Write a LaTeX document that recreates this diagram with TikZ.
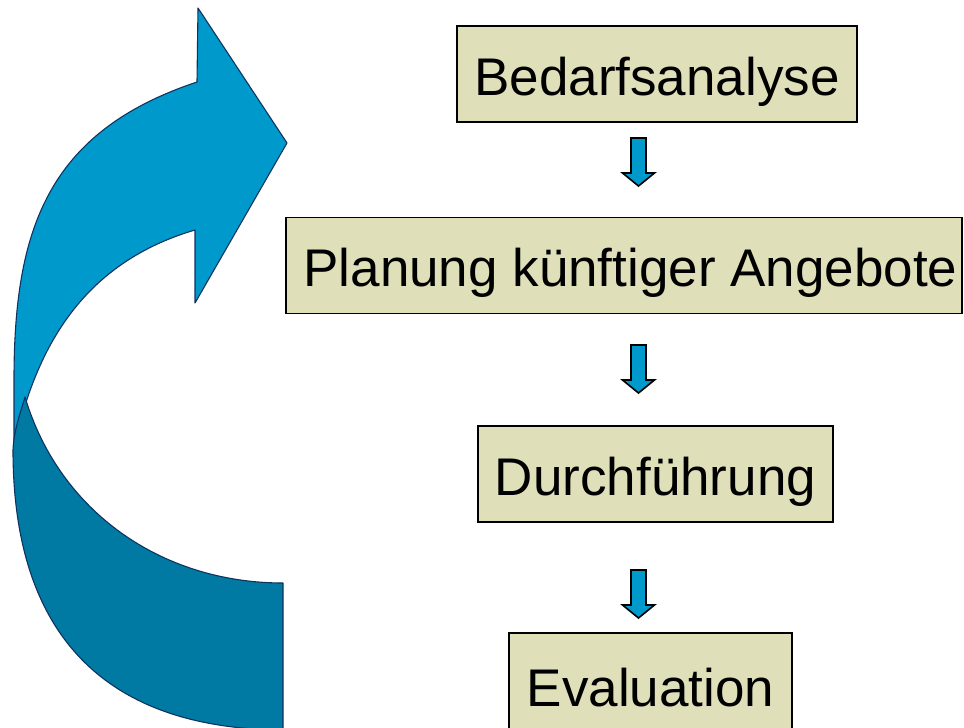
\documentclass[tikz,border=0pt]{standalone}
\usepackage{fontspec}
\setmainfont{Liberation Sans}
\definecolor{boxfill}{RGB}{223,223,185}
\definecolor{lightblue}{RGB}{0,153,204}
\definecolor{darkblue}{RGB}{0,122,163}
\definecolor{outlineblue}{RGB}{16,50,95}
\begin{document}
\begin{tikzpicture}[x=1pt,y=-1pt,
  stepbox/.style={draw=black, line width=1.5pt, fill=boxfill, inner sep=0pt,
    minimum height=96pt, text height=42pt, text depth=0pt,
    font=\fontsize{53}{60}\selectfont},
  lightpart/.style={fill=lightblue, draw=outlineblue, line width=1.1pt, line join=round},
  darkpart/.style={fill=darkblue, draw=outlineblue, line width=1.1pt, line join=round},
  smallarrow/.style={fill=lightblue, draw=black, line width=1.6pt, line join=miter},
  blockarrowdown/.pic={\filldraw[smallarrow] (-7.5,0) -- (7.5,0) -- (7.5,35) -- (16,35) -- (0,48) -- (-16,35) -- (-7.5,35) -- cycle;}
]
\useasboundingbox (0,0) rectangle (964,728);
\begin{scope}
\clip (0,0) rectangle (964,728);
% big curved arrow: light front part
\filldraw[lightpart] (198,8) -- (287,143) -- (195,303) -- (195,230)
  .. controls (76,265) and (34,357) .. (14,447)
  -- (14,380)
  .. controls (14,230) and (47,132) .. (197,82)
  -- cycle;
% big curved arrow: dark back part
\filldraw[darkpart] (283,583)
  .. controls (161,583) and (59,511) .. (25,397)
  .. controls (20,414) and (14,430) .. (13,450)
  .. controls (13,640) and (110,729) .. (283,730)
  -- cycle;

% boxes
\node[stepbox, minimum width=400pt] (b1) at (657,74) {Bedarfsanalyse};
\node[stepbox, minimum width=676pt] (b2) at (624,265.5) {\hspace*{13pt}Planung künftiger Angebote};
\node[stepbox, minimum width=355pt] (b3) at (655.5,474) {Durchführung};
\node[stepbox, minimum width=283pt, minimum height=100pt, text height=46pt] (b4) at (650.5,683) {Evaluation};

% small block arrows
\coordinate (a1) at (638.5,138);
\coordinate (a2) at (638.5,345);
\coordinate (a3) at (638.5,570);
\pic at (a1) {blockarrowdown};
\pic at (a2) {blockarrowdown};
\pic at (a3) {blockarrowdown};
\end{scope}
\end{tikzpicture}
\end{document}
